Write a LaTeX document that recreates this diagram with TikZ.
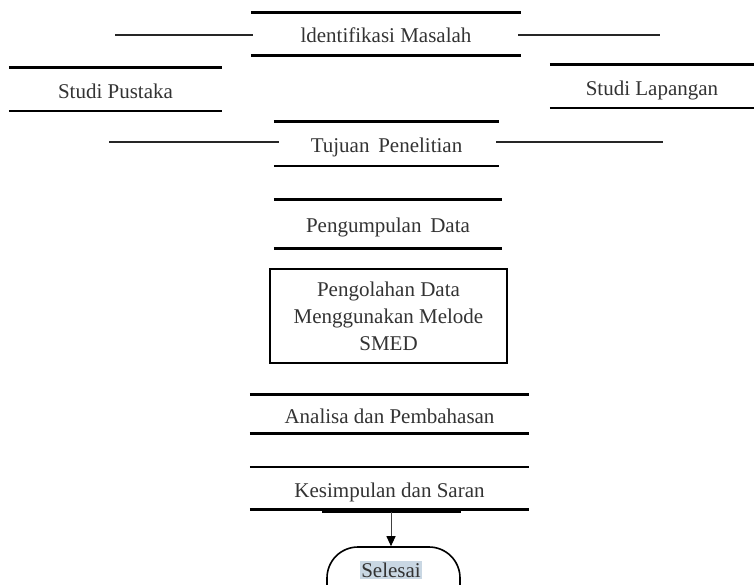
\documentclass[tikz,border=0pt]{standalone}
\usepackage{fontspec}
\setmainfont{Liberation Serif}
\usetikzlibrary{arrows.meta}
\definecolor{hilite}{HTML}{C9D7E3}
\definecolor{txt}{HTML}{333333}
\tikzset{
  lbox/.style={inner sep=0pt, text=txt, font=\fontsize{21}{27}\selectfont},
  onel/.style={lbox, text height=18pt, text depth=0pt},
  mainline/.style={line width=2.6pt, black},
  sideline/.style={line width=1.3pt, black!85},
}
\begin{document}
\begin{tikzpicture}[x=1pt,y=-1pt]
\useasboundingbox[fill=white] (0,0) rectangle (754,585);

% nodes
\node[onel, minimum width=270, minimum height=43] (im) at (386,34) {ldentifikasi\ Masalah};
\node[onel, minimum width=213, minimum height=43] (sp) at (115.5,89.5) {Studi Pustaka};
\node[onel, minimum width=204, minimum height=43] (sl) at (652,86.5) {Studi Lapangan};
\node[onel, minimum width=225, minimum height=44] (tp) at (386.5,144) {Tujuan\ \,Penelitian};
\node[onel, minimum width=228, minimum height=48] (pd) at (388,224) {Pengumpulan\ \,Data};
\node[lbox, draw, line width=2pt, minimum width=237, minimum height=94, align=center] (ol) at (388.5,316) {Pengolahan Data\\Menggunakan Melode\\SMED};
\node[onel, minimum width=279, minimum height=39] (ap) at (389.5,414) {Analisa dan Pembahasan};
\node[onel, minimum width=279, minimum height=42] (ks) at (389.5,488) {Kesimpulan dan Saran};
\node[draw, line width=1.6pt, rounded corners=31pt, minimum width=133, minimum height=68, inner sep=0pt] (sel) at (393.5,581) {};
\node[lbox, fill=hilite, inner sep=1.5pt] (selt) at (391,570) {Selesai};

% top / bottom rules of the boxes
\foreach \n in {im,sp,sl,tp,pd,ap,ks}{
  \draw[mainline] (\n.north west) -- (\n.north east);
  \draw[mainline] (\n.south west) -- (\n.south east);
}
\coordinate (ksl) at (322,512);
\coordinate (ksr) at (461,512);
\draw[line width=2.4pt] (ksl) -- (ksr);

% side lines
\coordinate (imL) at (115,35);
\coordinate (imLe) at (253,35);
\coordinate (imR) at (518,35);
\coordinate (imRe) at (660,35);
\draw[sideline] (imL) -- (imLe);
\draw[sideline] (imR) -- (imRe);
\coordinate (tpL) at (109,142);
\coordinate (tpLe) at (279,142);
\coordinate (tpR) at (496,142);
\coordinate (tpRe) at (663,142);
\draw[sideline] (tpL) -- (tpLe);
\draw[sideline] (tpR) -- (tpRe);

% arrow
\coordinate (arr) at (391,512);
\draw[line width=1pt, black!75, -{Triangle[length=10pt,width=9pt,black]}] (arr) -- (arr |- sel.north);
\end{tikzpicture}
\end{document}
